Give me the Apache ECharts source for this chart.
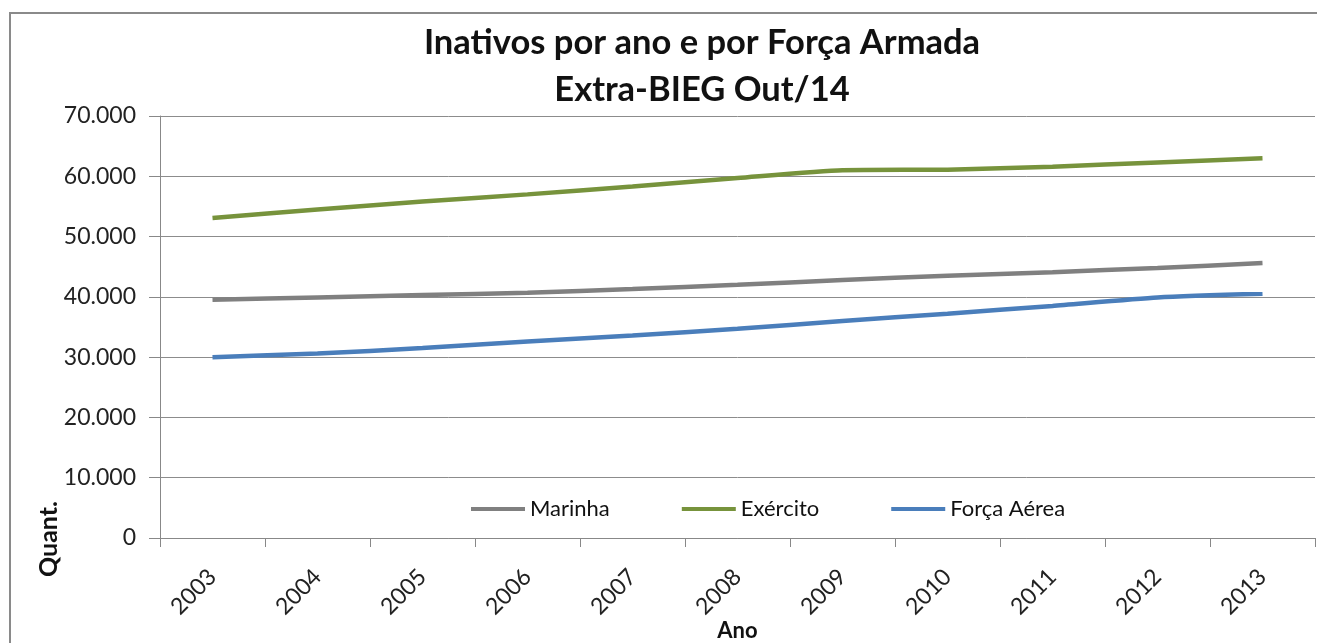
<!DOCTYPE html>
<html>
<head>
<meta charset="utf-8">
<script src="https://cdn.jsdelivr.net/npm/echarts@6/dist/echarts.min.js"></script>
<style>
  html, body { margin: 0; padding: 0; background: #fff; }
  #chart { width: 1317px; height: 643px; }
</style>
</head>
<body>
<div id="chart"></div>
<script>
// anos
var anos = ['2003', '2004', '2005', '2006', '2007', '2008', '2009', '2010', '2011', '2012', '2013'];
// valores
var marinha = [39500, 39900, 40300, 40700, 41300, 42000, 42800, 43500, 44100, 44800, 45600];
var exercito = [53100, 54500, 55800, 57000, 58300, 59700, 61000, 61100, 61600, 62300, 63000];
var forcaAerea = [30000, 30600, 31500, 32600, 33600, 34700, 36000, 37200, 38500, 39900, 40500];

var fonte = 'Lato, "Open Sans", sans-serif';

var myChart = echarts.init(document.getElementById('chart'));

function serie(nome, dados, cor) {
    return {
        name: nome,
        type: 'line',
        data: dados,
        smooth: 0.2,
        symbol: 'none',
        lineStyle: { color: cor, width: 4.5 },
        itemStyle: { color: cor }
    };
}

var option = {
    backgroundColor: '#fff',
    animation: false,
    title: {
        text: 'Inativos por ano e por Força Armada\nExtra-BIEG Out/14',
        left: 697,
        top: 14,
        textAlign: 'center',
        textStyle: {
            fontFamily: fonte,
            fontSize: 34.5,
            fontWeight: 'bold',
            color: '#111',
            lineHeight: 47
        }
    },
    legend: {
        left: 471,
        top: 498,
        padding: 0,
        itemWidth: 54,
        itemHeight: 4,
        itemGap: 72,
        icon: 'rect',
        textStyle: { fontFamily: fonte, fontSize: 22, color: '#111' },
        data: ['Marinha', 'Exército', 'Força Aérea']
    },
    grid: { left: 160, right: 2, top: 116, bottom: 105, outerBoundsMode: 'none' },
    xAxis: {
        type: 'category',
        data: anos,
        boundaryGap: true,
        name: 'Ano',
        nameLocation: 'middle',
        nameGap: 82,
        nameMoveOverlap: false,
        nameTextStyle: { fontFamily: fonte, fontSize: 22, fontWeight: 'bold', color: '#111' },
        axisLine: { lineStyle: { color: '#888', width: 1 } },
        axisTick: { show: true, length: 9, lineStyle: { color: '#888' } },
        axisLabel: { rotate: 45, fontFamily: fonte, fontSize: 23, color: '#222', margin: 35 }
    },
    yAxis: {
        type: 'value',
        min: 0,
        max: 70000,
        interval: 10000,
        axisLine: { show: true, lineStyle: { color: '#888', width: 1 } },
        axisTick: { show: true, length: 11, lineStyle: { color: '#888' } },
        splitLine: { lineStyle: { color: '#8c8c8c', width: 1 } },
        axisLabel: {
            fontFamily: fonte,
            fontSize: 23,
            color: '#222',
            margin: 24,
            formatter: function (v) {
                return String(v).replace(/\B(?=(\d{3})+(?!\d))/g, '.');
            }
        }
    },
    graphic: [
        {
            type: 'rect',
            shape: { x: 10, y: 13, width: 1330, height: 660 },
            style: { fill: 'none', stroke: '#8a8a8a', lineWidth: 2 },
            silent: true
        },
        {
            type: 'text',
            x: 36,
            y: 577,
            rotation: Math.PI / 2,
            style: {
                text: 'Quant.',
                font: 'bold 25px ' + fonte,
                fill: '#111'
            }
        }
    ],
    series: [
        serie('Marinha', marinha, '#808080'),
        serie('Exército', exercito, '#77933c'),
        serie('Força Aérea', forcaAerea, '#4a7ebb')
    ]
};

myChart.setOption(option);
window.addEventListener('resize', function () {
    myChart.resize();
});
</script>
</body>
</html>
